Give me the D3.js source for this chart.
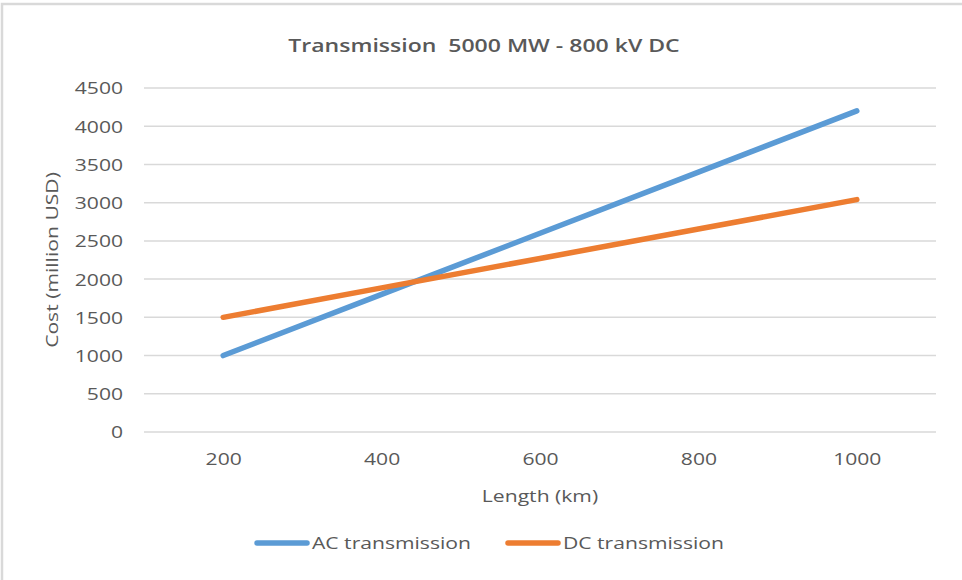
<!DOCTYPE html>
<html>
<head>
<meta charset="utf-8">
<script src="https://cdn.jsdelivr.net/npm/d3@7/dist/d3.min.js"></script>
<style>
  html, body { margin: 0; padding: 0; background: #fff; }
  svg { display: block; }
  text { font-family: "Open Sans", "Liberation Sans", sans-serif; fill: #595959; white-space: pre; }
</style>
</head>
<body>
<svg id="chart" width="962" height="580"></svg>
<script>
// Cost of transmitting 5000 MW over different distances
const lengths = ["200", "400", "600", "800", "1000"];          // km
const acCost = [1000, 1800, 2600, 3400, 4200];                 // million USD
const dcCost = [1500, 1885, 2270, 2655, 3040];                 // million USD
const costTicks = [0, 500, 1000, 1500, 2000, 2500, 3000, 3500, 4000, 4500];
const seriesNames = ["AC transmission", "DC transmission"];
const seriesColors = ["#5B9BD5", "#ED7D31"];

const W = 962, H = 580;
const plot = { left: 144, right: 936, top: 88, bottom: 432 };
const SX = 1.28; // horizontal stretch applied to all text

const svg = d3.select("#chart");

// widen text horizontally around its anchor point
function stretch(sel) {
  sel.each(function () {
    const t = d3.select(this);
    const x = +t.attr("x") || 0, y = +t.attr("y") || 0;
    t.attr("transform", `translate(${x},${y}) scale(${SX},1) translate(${-x},${-y})`);
  });
}

// outer frame
svg.append("rect")
  .attr("x", 2).attr("y", 4).attr("width", W + 10).attr("height", H + 10)
  .attr("fill", "none").attr("stroke", "#d9d9d9").attr("stroke-width", 2.5);

const x = d3.scalePoint().domain(lengths).range([plot.left, plot.right]).padding(0.5);
const y = d3.scaleLinear().domain([0, 4500]).range([plot.bottom, plot.top]);

// horizontal gridlines
svg.append("g")
  .selectAll("line")
  .data(costTicks)
  .join("line")
  .attr("x1", plot.left).attr("x2", plot.right)
  .attr("y1", d => y(d)).attr("y2", d => y(d))
  .attr("stroke", "#d9d9d9").attr("stroke-width", 1.5);

// y axis labels
const yAxis = svg.append("g")
  .attr("transform", `translate(${plot.left},0)`)
  .call(d3.axisLeft(y).tickValues(costTicks).tickFormat(d3.format("d")).tickSize(0).tickPadding(21));
yAxis.select(".domain").remove();
yAxis.selectAll("text")
  .style("font-size", "16.5px").attr("fill", "#595959")
  .attr("dy", "0.36em")
  .call(stretch);

// x axis labels
const xAxis = svg.append("g")
  .attr("transform", `translate(0,${plot.bottom})`)
  .call(d3.axisBottom(x).tickSize(0).tickPadding(21));
xAxis.select(".domain").remove();
xAxis.selectAll("text")
  .style("font-size", "16.5px").attr("fill", "#595959")
  .attr("dy", "0.71em")
  .call(stretch);

// series lines
const line = d3.line().x((d, i) => x(lengths[i])).y(d => y(d));
[acCost, dcCost].forEach((vals, k) => {
  svg.append("path")
    .datum(vals)
    .attr("d", line)
    .attr("fill", "none")
    .attr("stroke", seriesColors[k])
    .attr("stroke-width", 5.5)
    .attr("stroke-linecap", "round")
    .attr("stroke-linejoin", "round");
});

// title
svg.append("text")
  .attr("x", 484).attr("y", 52)
  .attr("text-anchor", "middle")
  .style("font-size", "18px").style("font-weight", 600)
  .attr("fill", "#404040")
  .text("Transmission  5000 MW - 800 kV DC")
  .call(stretch);

// axis titles
svg.append("text")
  .attr("x", 540).attr("y", 502)
  .attr("text-anchor", "middle")
  .style("font-size", "16.5px")
  .text("Length (km)")
  .call(stretch);

svg.append("text")
  .attr("transform", "translate(58,260) rotate(-90) scale(1.28,1)")
  .attr("text-anchor", "middle")
  .style("font-size", "16.5px")
  .text("Cost (million USD)");

// legend
const legendX = [257, 508];
seriesNames.forEach((name, k) => {
  const g = svg.append("g");
  g.append("line")
    .attr("x1", legendX[k]).attr("x2", legendX[k] + 50)
    .attr("y1", 543).attr("y2", 543)
    .attr("stroke", seriesColors[k]).attr("stroke-width", 5.5)
    .attr("stroke-linecap", "round");
  g.append("text")
    .attr("x", legendX[k] + 55).attr("y", 549)
    .style("font-size", "16.5px")
    .text(name)
    .call(stretch);
});
</script>
</body>
</html>
